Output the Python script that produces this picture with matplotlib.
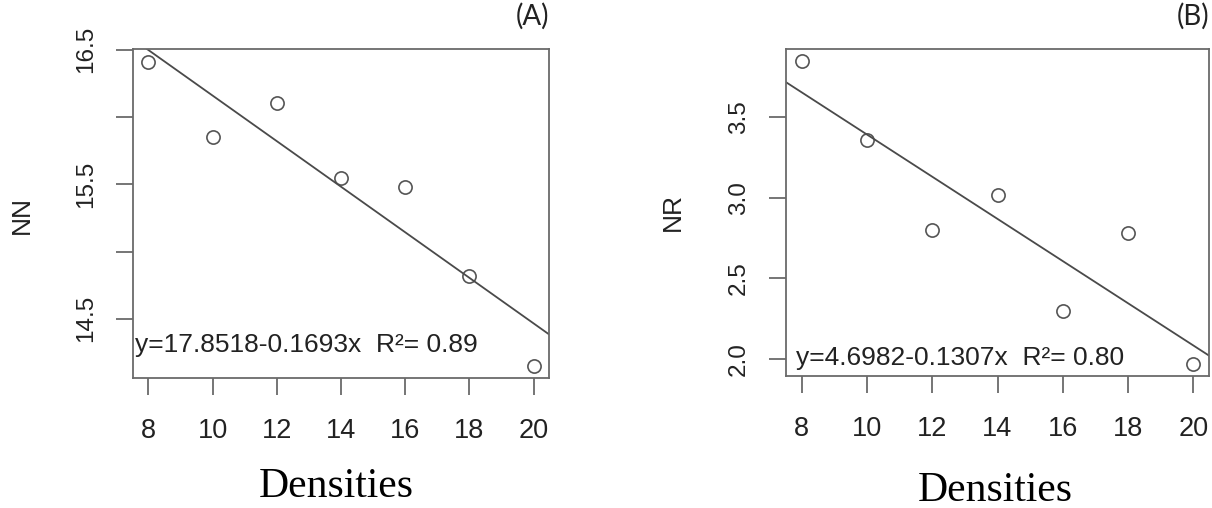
import matplotlib
matplotlib.use("Agg")
import matplotlib.pyplot as plt
import numpy as np

# ---- data ----
densities = [8, 10, 12, 14, 16, 18, 20]
nn_values = [16.41, 15.85, 16.10, 15.55, 15.48, 14.82, 14.15]
nr_values = [3.846, 3.36, 2.797, 3.014, 2.30, 2.78, 1.97]
fit_a = (17.8518, -0.1693)
fit_b = (4.6982, -0.1307)
eq_a = "y=17.8518-0.1693x  R\u00b2= 0.89"
eq_b = "y=4.6982-0.1307x  R\u00b2= 0.80"
x_ticks = [8, 10, 12, 14, 16, 18, 20]
yticks_a = [14.5, 15.0, 15.5, 16.0, 16.5]
yticklabels_a = ["14.5", "", "15.5", "", "16.5"]
yticks_b = [2.0, 2.5, 3.0, 3.5]
yticklabels_b = ["2.0", "2.5", "3.0", "3.5"]

plt.rcParams['font.family'] = ['Liberation Sans', 'DejaVu Sans']

W, H = 1212, 508
fig = plt.figure(figsize=(W / 100, H / 100), dpi=100)

frame_col = '#6a6a6a'
line_col = '#4a4a4a'
txt_col = '#222222'


def px_axes(l, t, r, b):
    return fig.add_axes([l / W, 1 - b / H, (r - l) / W, (b - t) / H])


def style(ax, yt, ytl):
    for s in ax.spines.values():
        s.set_color(frame_col)
        s.set_linewidth(1.3)
    ax.set_xticks(x_ticks)
    ax.set_xticklabels([str(v) for v in x_ticks])
    ax.set_yticks(yt)
    ax.set_yticklabels(ytl, rotation=90, va='center')
    ax.tick_params(axis='both', length=12, width=1.3, color=frame_col,
                   labelcolor=txt_col)
    ax.tick_params(axis='x', labelsize=19.5, pad=17)
    ax.tick_params(axis='y', labelsize=17.5, pad=14)
    ax.set_xlim(7.52, 20.48)


xl = np.array([7.52, 20.48])

# Panel A
axA = px_axes(133, 49, 549, 378)
axA.plot(densities, nn_values, 'o', mfc='white', mec='#555555', ms=9.5, mew=1.2)
axA.plot(xl, fit_a[0] + fit_a[1] * xl, color=line_col, lw=1.3)
style(axA, yticks_a, yticklabels_a)
axA.set_ylim(14.06, 16.505)
axA.text(0.006, 0.1, eq_a, transform=axA.transAxes, fontsize=19,
         color=txt_col, va='center', ha='left')

# Panel B
axB = px_axes(786, 49, 1209, 376)
axB.plot(densities, nr_values, 'o', mfc='white', mec='#555555', ms=9.5, mew=1.2)
axB.plot(xl, fit_b[0] + fit_b[1] * xl, color=line_col, lw=1.3)
style(axB, yticks_b, yticklabels_b)
axB.set_ylim(1.895, 3.921)
axB.text(0.024, 0.055, eq_b, transform=axB.transAxes, fontsize=19,
         color=txt_col, va='center', ha='left')

# y labels
fig.text(22 / W, 1 - 215 / H, 'NN', rotation=90, ha='center', va='center',
         fontsize=19, color=txt_col)
fig.text(673 / W, 1 - 212 / H, 'NR', rotation=90, ha='center', va='center',
         fontsize=19, color=txt_col)

# panel tags
fig.text(549 / W, 1 - 16 / H, '(A)', ha='right', va='center', fontsize=20,
         color=txt_col, family=['Lato', 'DejaVu Sans'])
fig.text(1209 / W, 1 - 16 / H, '(B)', ha='right', va='center', fontsize=20,
         color=txt_col, family=['Lato', 'DejaVu Sans'])

# x labels
fig.text(336 / W, 1 - 487 / H, 'Densities', ha='center', va='center',
         fontsize=30, color='black', family=['Liberation Serif', 'DejaVu Serif'])
fig.text(995 / W, 1 - 491 / H, 'Densities', ha='center', va='center',
         fontsize=30, color='black', family=['Liberation Serif', 'DejaVu Serif'])

fig.savefig('out.png', dpi=100)
